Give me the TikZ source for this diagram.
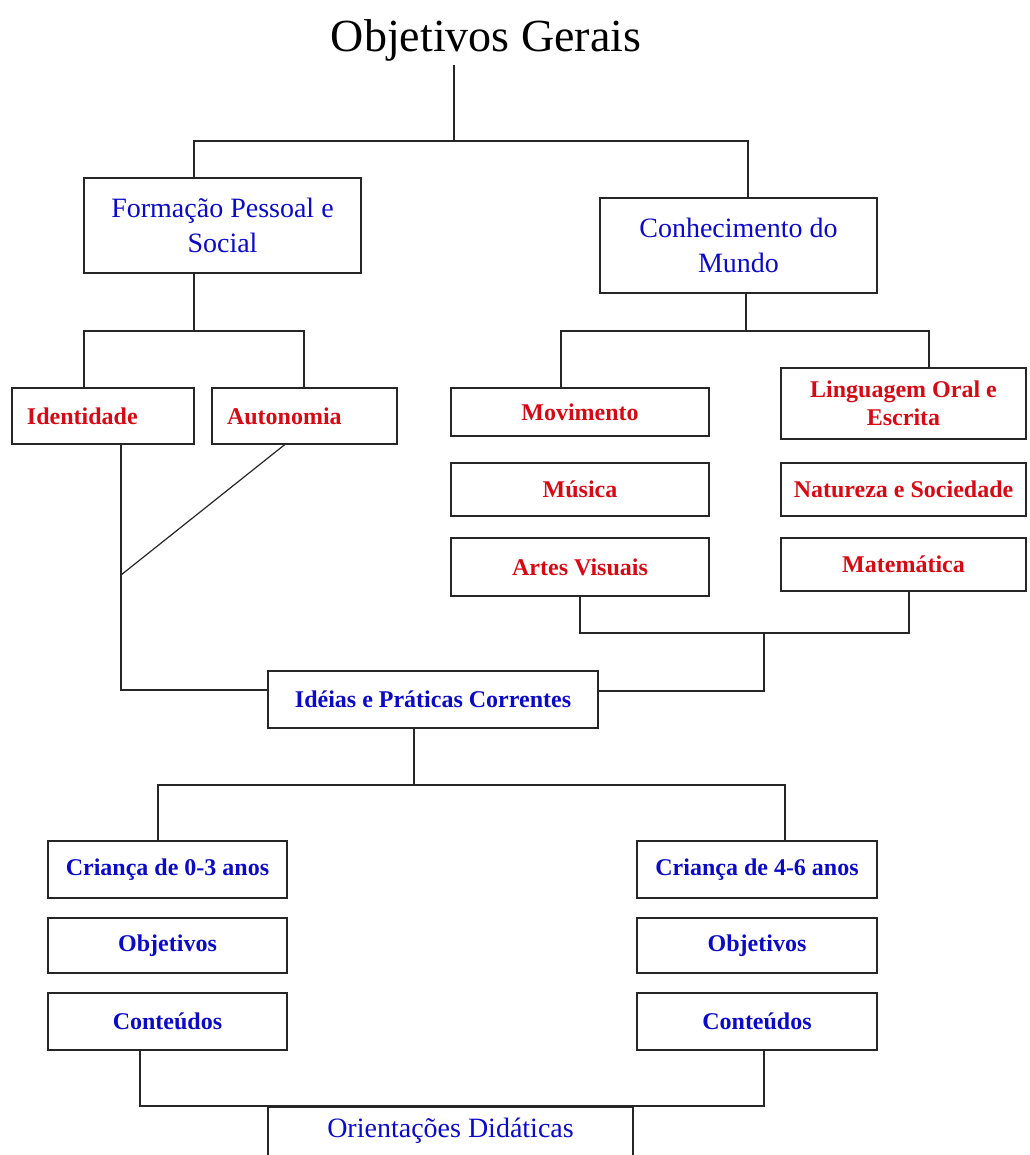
\documentclass[tikz,border=0pt]{standalone}
\usepackage{fontspec}
\setmainfont{Liberation Serif}
\usepackage{tikz}
\usetikzlibrary{calc}

\definecolor{labelblue}{RGB}{10,10,200}
\definecolor{labelred}{RGB}{215,10,20}

\begin{document}
\begin{tikzpicture}[x=1pt, y=-1pt, line width=1.6pt,
        title_style/.style={font=\fontsize{46}{50}\selectfont},
        blue_box_style/.style={draw=black!85, rectangle, align=center, text=labelblue, font=\fontsize{28}{35}\selectfont},
        blue_bold_style/.style={draw=black!85, rectangle, align=center, text=labelblue, font=\fontsize{24}{28}\selectfont\bfseries},
        red_box_style/.style={draw=black!85, rectangle, align=center, text=labelred, font=\fontsize{24}{28}\selectfont\bfseries},
        red_left_style/.style={red_box_style, align=left, inner xsep=15pt},
        edge_style/.style={draw=black!85, line width=1.6pt}]

        \useasboundingbox (0,0) rectangle (1029,1155);

        \node [title_style](title) at (486,40) {Objetivos Gerais};

        \node [blue_box_style, minimum width=277, minimum height=95](fps) at (222.5,225.5) {Formação Pessoal e\\Social};

        \node [blue_box_style, minimum width=277, minimum height=95](cdm) at (738.5,245.5) {Conhecimento do\\Mundo};

        \node [red_left_style, text width=152, minimum height=56](ide) at (103,416) {Identidade};

        \node [red_left_style, text width=155, minimum height=56](aut) at (304.5,416) {Autonomia};

        \node [red_box_style, minimum width=258, minimum height=48](mov) at (580,412) {Movimento};

        \node [red_box_style, minimum width=258, minimum height=53](mus) at (580,489.5) {Música};

        \node [red_box_style, minimum width=258, minimum height=58](art) at (580,567) {Artes Visuais};

        \node [red_box_style, minimum width=245, minimum height=71](lin) at (903.5,403.5) {Linguagem Oral e\\Escrita};

        \node [red_box_style, minimum width=245, minimum height=53](nat) at (903.5,489.5) {Natureza e Sociedade};

        \node [red_box_style, minimum width=245, minimum height=53](mat) at (903.5,564.5) {Matemática};

        \node [blue_bold_style, minimum width=330, minimum height=57](ipc) at (433,699.5) {Idéias e Práticas Correntes};

        \node [blue_bold_style, minimum width=239, minimum height=57](c03) at (167.5,869.5) {Criança de 0-3 anos};

        \node [blue_bold_style, minimum width=239, minimum height=55](obj1) at (167.5,945.5) {Objetivos};

        \node [blue_bold_style, minimum width=239, minimum height=57](con1) at (167.5,1021.5) {Conteúdos};

        \node [blue_bold_style, minimum width=240, minimum height=57](c46) at (757,869.5) {Criança de 4-6 anos};

        \node [blue_bold_style, minimum width=240, minimum height=55](obj2) at (757,945.5) {Objetivos};

        \node [blue_bold_style, minimum width=240, minimum height=57](con2) at (757,1021.5) {Conteúdos};

        \node [blue_box_style, anchor=north, minimum width=365, inner ysep=5pt, text height=26pt, text depth=40pt](ori) at (450.5,1106) {Orientações Didáticas};

        % junction points
        \coordinate (j1) at (454,141);
        \coordinate (f1) at (194,141);
        \coordinate (c1) at (748,141);
        \coordinate (f2) at (194,331);
        \coordinate (i1) at (84,331);
        \coordinate (a1) at (304,331);
        \coordinate (k1) at (746,331);
        \coordinate (m1) at (561,331);
        \coordinate (l1) at (929,331);
        \coordinate (e1) at (121,690);
        \coordinate (d1) at (121,575);
        \coordinate (r1) at (580,633);
        \coordinate (r2) at (909,633);
        \coordinate (r3) at (764,633);
        \coordinate (r4) at (764,691);
        \coordinate (p1) at (414,785);
        \coordinate (q1) at (158,785);
        \coordinate (q2) at (785,785);
        \coordinate (s1) at (140,1106);
        \coordinate (s2) at (764,1106);

        \draw [edge_style] (title.south -| j1) -- (j1);

        \draw [edge_style] (fps.north -| f1) -- (f1) -- (c1) -- (cdm.north -| c1);

        \draw [edge_style] (fps.south -| f2) -- (f2);

        \draw [edge_style] (ide.north -| i1) -- (i1) -- (a1) -- (aut.north -| a1);

        \draw [edge_style] (cdm.south -| k1) -- (k1);

        \draw [edge_style] (mov.north -| m1) -- (m1) -- (l1) -- (lin.north -| l1);

        \draw [edge_style] (ide.south -| e1) -- (e1) -- (ipc.west |- e1);

        \draw [edge_style, line width=1.2pt] ([xshift=-20pt]aut.south) -- (d1);

        \draw [edge_style] (art.south -| r1) -- (r1) -- (r2) -- (mat.south -| r2);

        \draw [edge_style] (r3) -- (r4) -- (ipc.east |- r4);

        \draw [edge_style] (ipc.south -| p1) -- (p1);

        \draw [edge_style] (c03.north -| q1) -- (q1) -- (q2) -- (c46.north -| q2);

        \draw [edge_style] (con1.south -| s1) -- (s1) -- (s2) -- (con2.south -| s2);

        \end{tikzpicture}
\end{document}
